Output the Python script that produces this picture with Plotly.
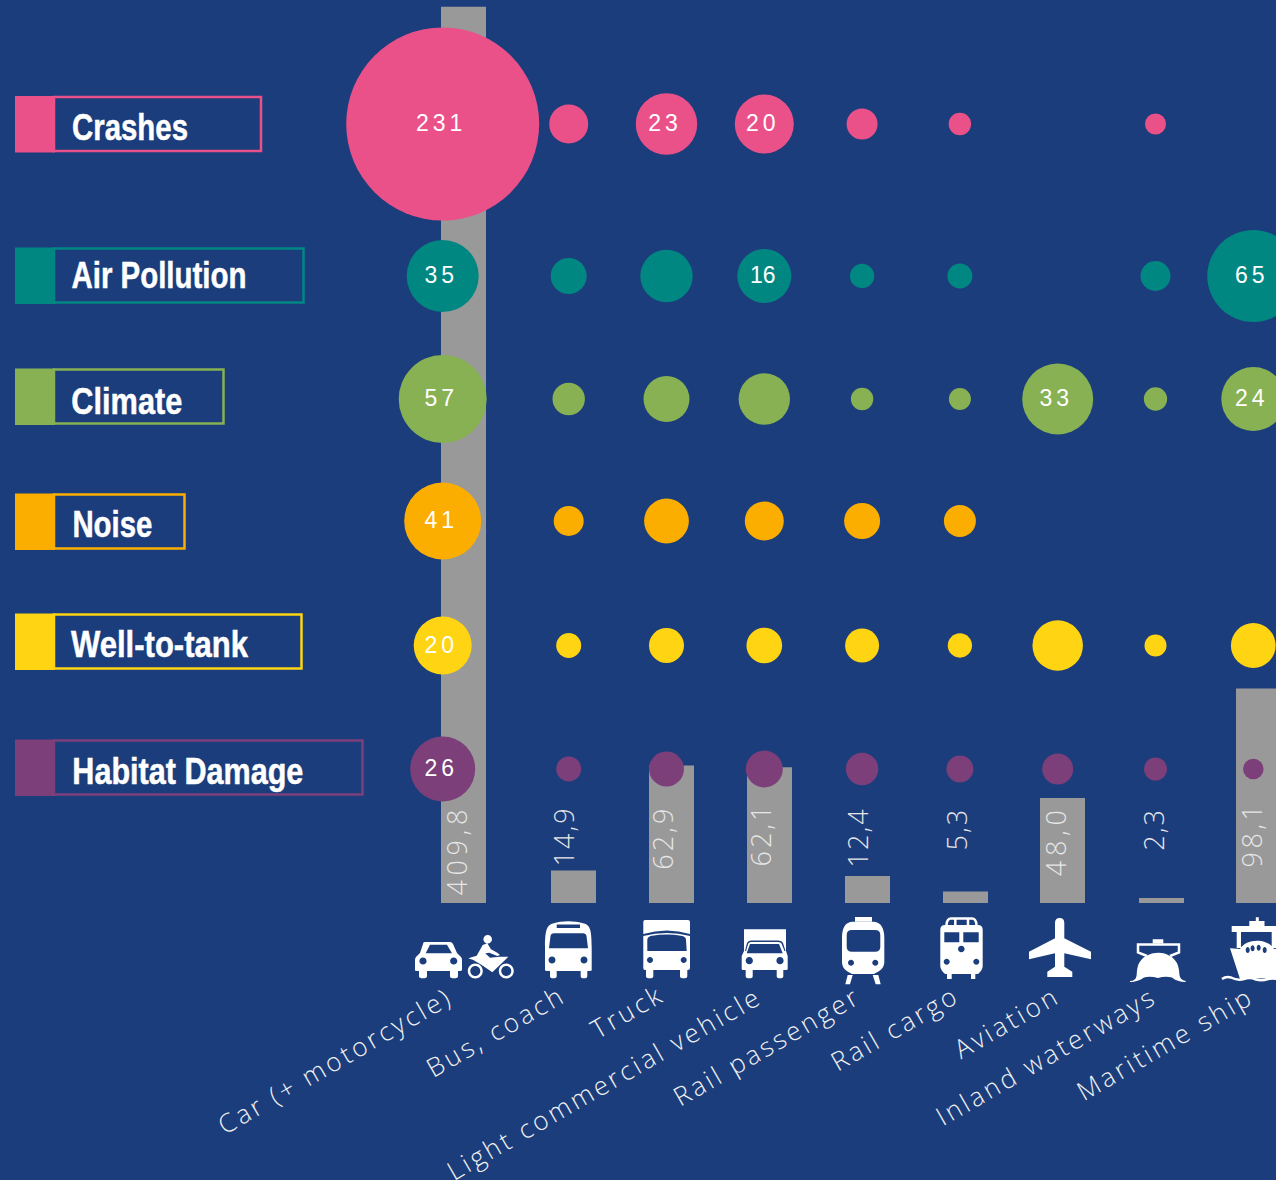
import re
import json
import plotly.graph_objects as go

# ---------- data ----------
modes = ["Car (+ motorcycle)", "Bus, coach", "Truck", "Light commercial vehicle", "Rail passenger",
         "Rail cargo", "Aviation", "Inland waterways", "Maritime ship"]
activity = [409.8, 14.9, 62.9, 62.1, 12.4, 5.3, 48.0, 2.3, 98.1]
activity_labels = ["409,8", "14,9", "62,9", "62,1", "12,4", "5,3", "48,0", "2,3", "98,1"]

effects = ["Crashes", "Air Pollution", "Climate", "Noise", "Well-to-tank", "Habitat Damage"]
# bubble diameters
crashes = [193, 39, 61.5, 59, 31, 22.4, None, 21, None]
air_pollution = [72, 36, 52.4, 54, 24.3, 25, None, 30, 92]
climate = [88, 32.4, 46, 51.4, 22.4, 22, 71, 23.3, 64]
noise = [77, 30, 44.8, 39, 36, 32, None, None, None]
well_to_tank = [58, 25, 35, 35.7, 34, 24.3, 50.5, 22, 44.8]
habitat = [65, 25, 35, 37, 32.4, 27, 31, 23, 20.5]
# printed bubble labels
crashes_lab = ["231", "", "23", "20", "", "", "", "", ""]
air_lab = ["35", "", "", "16", "", "", "", "", "65"]
climate_lab = ["57", "", "", "", "", "", "33", "", "24"]
noise_lab = ["41", "", "", "", "", "", "", "", ""]
well_lab = ["20", "", "", "", "", "", "", "", ""]
habitat_lab = ["26", "", "", "", "", "", "", "", ""]

# ---------- style / layout ----------
W, H = 1276, 1180
BG = "#1B3D7C"
COLORS = ["#EB5189", "#008782", "#87B153", "#FBAE00", "#FFD413", "#7C3F7A"]
ROW_PX = [124, 276, 399, 521, 645.5, 769]
SLOT, SLOT1 = 97.8, 568.7      # px per category, px of category 1
BASE_PX, PX_PER_UNIT = 903.0, 2.187


def px_to_idx(p):
    return 1 + (p - SLOT1) / SLOT


def idx_list():
    return [px_to_idx(442.7)] + list(range(1, 9))


bar_x = [px_to_idx(p) for p in [463.5, 573.5, 671.5, 769.5, 867.5, 965.5, 1062.5, 1161.5, 1258.5]]

fig = go.Figure()
fig.add_trace(go.Bar(x=bar_x, y=activity, width=45 / SLOT, marker=dict(color="#999999", line_width=0),
                     showlegend=False, hoverinfo="skip", yaxis="y"))

rows = [(crashes, crashes_lab), (air_pollution, air_lab), (climate, climate_lab),
        (noise, noise_lab), (well_to_tank, well_lab), (habitat, habitat_lab)]
for name, (vals, labs), col, rp in zip(effects, rows, COLORS, ROW_PX):
    keep = [i for i, v in enumerate(vals) if v is not None]
    xs = idx_list()
    fig.add_trace(go.Scatter(
        x=[xs[i] for i in keep], y=[rp] * len(keep), yaxis="y2", mode="markers+text", name=name,
        marker=dict(size=[vals[i] for i in keep], sizemode="diameter", sizeref=1, color=col, line_width=0, opacity=1),
        text=[labs[i] for i in keep], textposition="middle center",
        textfont=dict(family="Liberation Sans", size=23, color="white"),
        showlegend=False, hoverinfo="skip", cliponaxis=True))


def pap(x, y):
    return x / W, 1 - y / H


def P(d):
    """px path -> paper path (M/L/C/Q/Z only)."""
    out = []
    for tok in re.findall(r"[MLCQZ]|[^MLCQZ]+", d):
        if tok in "MLCQZ":
            out.append(tok)
        else:
            n = [float(v) for v in tok.replace(",", " ").split()]
            pts = []
            for i in range(0, len(n), 2):
                a, b = pap(n[i], n[i + 1])
                pts.append(f"{a:.5f},{b:.5f}")
            out.append(" ".join(pts))
    return " ".join(out)


def circ(cx, cy, rx, ry=None):
    ry = rx if ry is None else ry
    k = 0.5523
    return (f"M {cx-rx} {cy} C {cx-rx} {cy-k*ry} {cx-k*rx} {cy-ry} {cx} {cy-ry} "
            f"C {cx+k*rx} {cy-ry} {cx+rx} {cy-k*ry} {cx+rx} {cy} "
            f"C {cx+rx} {cy+k*ry} {cx+k*rx} {cy+ry} {cx} {cy+ry} "
            f"C {cx-k*rx} {cy+ry} {cx-rx} {cy+k*ry} {cx-rx} {cy} Z ")


def wheel(x0, x1, y0, y1):
    return (f"M {x0} {y0} L {x0} {y1-2} Q {x0} {y1} {(x0+x1)/2} {y1} Q {x1} {y1} {x1} {y1-2} L {x1} {y0} Z ")


def rect(x0, y0, x1, y1):
    return f"M {x0} {y0} L {x1} {y0} L {x1} {y1} L {x0} {y1} Z "


shapes = []


def fill(d, rule="evenodd"):
    shapes.append(dict(type="path", path=P(d), xref="paper", yref="paper", fillcolor="white",
                       fillrule=rule, line=dict(width=0), layer="above"))


def stroke(d, w):
    shapes.append(dict(type="path", path=P(d), xref="paper", yref="paper", fillcolor="rgba(0,0,0,0)",
                       line=dict(color="white", width=w), layer="above"))


# legend boxes
legend_boxes = [(96, 262), (247.5, 304.5), (368.5, 224.5), (493.5, 185.5), (613.5, 302.5), (739.5, 363.5)]
legend_text = [(72, 116, 32), (71, 175, 28), (72, 111, 33), (72, 80, 31), (71, 177, 31), (72, 231, 32)]
annots = []
for name, col, (top, right), (tx, tl, tdy) in zip(effects, COLORS, legend_boxes, legend_text):
    x0, y0 = pap(54, top + 1)
    x1, y1 = pap(right - 1, top + 55)
    shapes.append(dict(type="rect", xref="paper", yref="paper", x0=x0, x1=x1, y0=y0, y1=y1,
                       line=dict(color=col, width=2.5), fillcolor="rgba(0,0,0,0)", layer="above"))
    x0, y0 = pap(15, top)
    x1, y1 = pap(55, top + 56.5)
    shapes.append(dict(type="rect", xref="paper", yref="paper", x0=x0, x1=x1, y0=y0, y1=y1,
                       line_width=0, fillcolor=col, layer="above"))
    ax, ay = pap(tx + tl / 2, top + tdy)
    annots.append(dict(x=ax, y=ay, xref="paper", yref="paper", text=name, showarrow=False, xanchor="center",
                       yanchor="middle", font=dict(family="Liberation Sans", size=37, color="white", weight=700)))

# car
fill("M 425 942 L 450 942 Q 452 942 453 944 L 457 953 L 461 957 Q 462 958 462 960 L 462 970 Q 462 971 460 971 "
     "L 416 971 Q 415 971 415 970 L 415 960 Q 415 958 416 957 L 420 953 L 423 944 Q 423 942 425 942 Z "
     "M 430 944.7 L 447 944.7 L 452 953.3 L 425.7 953.3 Z " + circ(423, 961, 3.6) + circ(453.7, 961, 3.6))
fill(wheel(419, 427, 970, 978.3) + wheel(450, 458, 970, 978.3), "nonzero")
# motorcycle
fill(circ(475.3, 971, 7.5) + circ(475.3, 971, 5) + circ(506.3, 971, 7.5) + circ(506.3, 971, 5))
fill("M 468.3 958.3 L 476.7 955.7 L 482.7 945 L 487.3 943.3 L 491 949.3 L 497.3 952.7 L 500 955 L 497.3 956 "
     "L 489.3 952.7 L 485.3 953.3 L 490 957.7 L 499.3 956.7 L 508.3 956.7 L 503.3 961.7 L 492.3 972.3 L 481.7 965 "
     "L 473.3 960 Z " + circ(487.7, 939.3, 4.3), "nonzero")
# bus
fill("M 545 947 C 545 930 547 925 553 923.5 C 562 920.5 574 920.5 584 923.5 C 590 925 591.7 930 591.7 947 L 591.7 970 "
     "Q 591.7 971 590 971 L 547 971 Q 545 971 545 970 Z "
     "M 554 933.3 L 583 933.3 Q 586 933.3 586.5 936 L 588 948.3 L 549 948.3 L 550.5 936 Q 551 933.3 554 933.3 Z "
     + rect(556.7, 924.5, 580, 928) + circ(552, 960, 3.5) + circ(584, 960, 3.5))
fill(wheel(550, 556.7, 970, 978.3) + wheel(580.7, 587.3, 970, 978.3), "nonzero")
# truck
fill("M 645 920 L 688 920 Q 690 920 690 922 L 690 968 Q 690 970 688 970 L 645 970 Q 643.3 970 643.3 968 L 643.3 922 "
     "Q 643.3 920 645 920 Z "
     "M 643.3 934 Q 667 927 690 934 L 690 936 Q 667 930 643.3 936 Z "
     "M 652 935.8 Q 667 933 681 935.8 Q 686 936.5 686 940 L 686.7 951 L 647.3 951 L 647.3 940 Q 647.3 936.5 652 935.8 Z "
     + circ(650, 960, 3) + circ(683.7, 960, 3))
fill(wheel(646, 653.3, 969, 978.3) + wheel(680, 687.3, 969, 978.3), "nonzero")
# light commercial vehicle
fill("M 744 929.3 L 786 929.3 L 786 951 L 787.7 956 L 787.7 969 Q 787.7 970 786 970 L 743 970 Q 741.7 970 741.7 969 "
     "L 741.7 956 L 744 951 Z "
     "M 750 944 L 779 944 L 782.7 953.3 L 746.7 953.3 Z "
     "M 745 951 L 747 943 Q 748 940.5 751 940.5 L 778 940.5 Q 782 940.5 783 943 L 785.5 951 L 784.5 951 L 781.5 943.5 "
     "Q 781 942 778 942 L 751 942 Q 749 942 748.3 943.5 L 746 951 Z "
     + circ(749.3, 960.7, 3.6) + circ(780, 960.7, 3.6))
fill(wheel(745.7, 752.7, 969, 978.3) + wheel(776.7, 783.3, 969, 978.3), "nonzero")
# rail passenger
fill("M 852 921.7 L 874 921.7 C 881 922.5 884.3 928 884.3 938 L 884.3 962 C 884.3 968 880 971 874 974 L 852 974 "
     "C 846 971 842 968 842 962 L 842 938 C 842 928 845 922.5 852 921.7 Z "
     "M 852 930 L 875 930 Q 880.3 930 880.3 935 L 880.3 947 Q 880.3 951.7 875 951.7 L 852 951.7 Q 846.7 951.7 846.7 947 "
     "L 846.7 935 Q 846.7 930 852 930 Z " + circ(851, 962.7, 3) + circ(875.3, 962.7, 3))
fill(rect(855, 917, 872, 921.7) +
     "M 847.7 975 L 852.7 975 L 850 984.3 L 845.3 984.3 Z M 872.7 975 L 878.3 975 L 880.7 984.3 L 875.7 984.3 Z ",
     "nonzero")
# rail cargo
fill("M 945 925 L 978 925 Q 982.7 925 982.7 930 L 982.7 966 Q 982.7 970 978 974 L 945 974 Q 940.3 970 940.3 966 "
     "L 940.3 930 Q 940.3 925 945 925 Z "
     + rect(944.3, 932.3, 959.3, 942.3) + rect(963.3, 932.3, 978.7, 942.3)
     + circ(961.3, 949, 3.3) + circ(946.7, 961.7, 3) + circ(976.3, 961.7, 3))
fill(rect(947, 974, 951.7, 979) + rect(971, 974, 975.3, 979), "nonzero")
stroke("M 946.5 925 Q 947 918.5 951 918.5 L 972 918.5 Q 976 918.5 976.5 925 M 955.3 918.5 L 955.3 925 M 968 918.5 L 968 925", 2.5)
# aviation
fill("M 1055 923 Q 1055 918 1059.7 918 Q 1064.3 918 1064.3 923 L 1064.3 938.3 L 1091 951.7 L 1091 959.3 L 1064.3 953.3 "
     "L 1064.3 966.7 L 1072.3 971.7 L 1072.3 977 L 1047.3 977 L 1047.3 971.7 L 1055 966.7 L 1055 953.3 L 1029 959.3 "
     "L 1029 951.7 L 1055 938.3 Z", "nonzero")
# inland waterways
stroke("M 1147 956 L 1138 952.5 L 1138 944.5 L 1179 944.5 L 1179 952.5 L 1170 956", 2.5)
fill(rect(1152.7, 939.3, 1163.3, 943.5) +
     "M 1130 981 Q 1136 981 1136.7 975 C 1137 966 1139 960 1146 956 C 1153 951.5 1164 951.5 1170 956 "
     "C 1177 960 1179 966 1179.5 975 Q 1180 980 1185.7 981 L 1185.7 982 Q 1177 982 1172 977.5 Q 1165 976 1158 978 "
     "Q 1150 976 1144 977.5 Q 1138 982 1130 982 Z", "nonzero")
# maritime ship
fill(rect(1255.8, 917.3, 1258.8, 921) + rect(1249.3, 921, 1264.5, 927) + rect(1231.7, 926, 1277, 932), "nonzero")
fill(rect(1236.7, 932, 1241, 948) + rect(1271.7, 932, 1276, 948), "nonzero")
fill("M 1230 948.3 L 1240 949 C 1246 938 1268 938 1274 949 L 1284 948.3 L 1276 978 L 1240 979 Z "
     + circ(1247.7, 950, 2, 3) + circ(1252.6, 948.3, 2, 3) + circ(1258.7, 947.7, 2, 3) + circ(1264.7, 950, 2, 3))
stroke("M 1222 979 Q 1226 976 1231 977.5 Q 1238 981 1244 979 Q 1250 977 1256 979.5 Q 1262 981 1268 979 Q 1272 978 1277 979", 2.5)

# activity labels
label_cx = [456, 563.3, 661.7, 760, 857.7, 956, 1054.8, 1152.7, 1251]
label_cy = [850, 836, 838, 834.5, 836.7, 829.5, 841, 829, 834.5]
label_gap = [4.6, 2, 3, 3, 2, 2, 4.7, 2, 3.5]
for t, cx, cy in zip(activity_labels, label_cx, label_cy):
    ax, ay = pap(cx, cy)
    annots.append(dict(x=ax, y=ay, xref="paper", yref="paper", text=t, showarrow=False, textangle=-90,
                       xanchor="center", yanchor="middle",
                       font=dict(family="Open Sans", size=27, color="#E6E6E6", weight=300)))

# category labels
cat_c = [(335, 1060), (495, 1031), (627, 1011), (604, 1083), (766, 1045.5), (894, 1027.5), (1006, 1021.5), (1045, 1055.5), (1165, 1043)]
for t, (cx, cy) in zip(modes, cat_c):
    ax, ay = pap(cx, cy)
    annots.append(dict(x=ax, y=ay, xref="paper", yref="paper", text=t, showarrow=False, textangle=-30,
                       xanchor="center", yanchor="middle",
                       font=dict(family="Open Sans", size=26, color="#F0F0F0", weight=300)))

fig.update_layout(
    width=W, height=H, margin=dict(l=0, r=0, t=0, b=0), autosize=False,
    paper_bgcolor=BG, plot_bgcolor=BG, showlegend=False, hovermode=False,
    xaxis=dict(range=[px_to_idx(0), px_to_idx(W)], visible=False, fixedrange=True),
    yaxis=dict(range=[(BASE_PX - H) / PX_PER_UNIT, BASE_PX / PX_PER_UNIT], visible=False, fixedrange=True),
    yaxis2=dict(range=[H, 0], overlaying="y", visible=False, fixedrange=True),
    shapes=shapes, annotations=annots,
)

PAGE_JS = """
var cats = %s, gaps = %s, legendLen = %s;
document.documentElement.style.margin = '0';
document.body.style.margin = '0';
document.body.style.background = '%s';
document.body.style.overflow = 'hidden';
document.querySelectorAll('.textpoint text').forEach(function(t){
  t.style.letterSpacing = t.textContent === '16' ? '0px' : '4px';
  t.setAttribute('x', parseFloat(t.getAttribute('x')) - 1.5);
  t.setAttribute('y', parseFloat(t.getAttribute('y')) + 1.5);
});
document.querySelectorAll('text.annotation-text').forEach(function(t){
  var s = t.textContent;
  if (cats.indexOf(s) >= 0) t.style.letterSpacing = '3px';
  if (gaps[s] !== undefined) t.style.letterSpacing = gaps[s] + 'px';
  if (legendLen[s]) {
    t.setAttribute('textLength', legendLen[s]);
    t.setAttribute('lengthAdjust', 'spacingAndGlyphs');
    t.style.stroke = 'white';
    t.style.strokeWidth = '0.5px';
  }
});
""" % (json.dumps(modes), json.dumps(dict(zip(activity_labels, label_gap))),
       json.dumps({n: l[1] for n, l in zip(effects, legend_text)}), BG)

fig.write_html("out.html", post_script=PAGE_JS, config={"displayModeBar": False})
